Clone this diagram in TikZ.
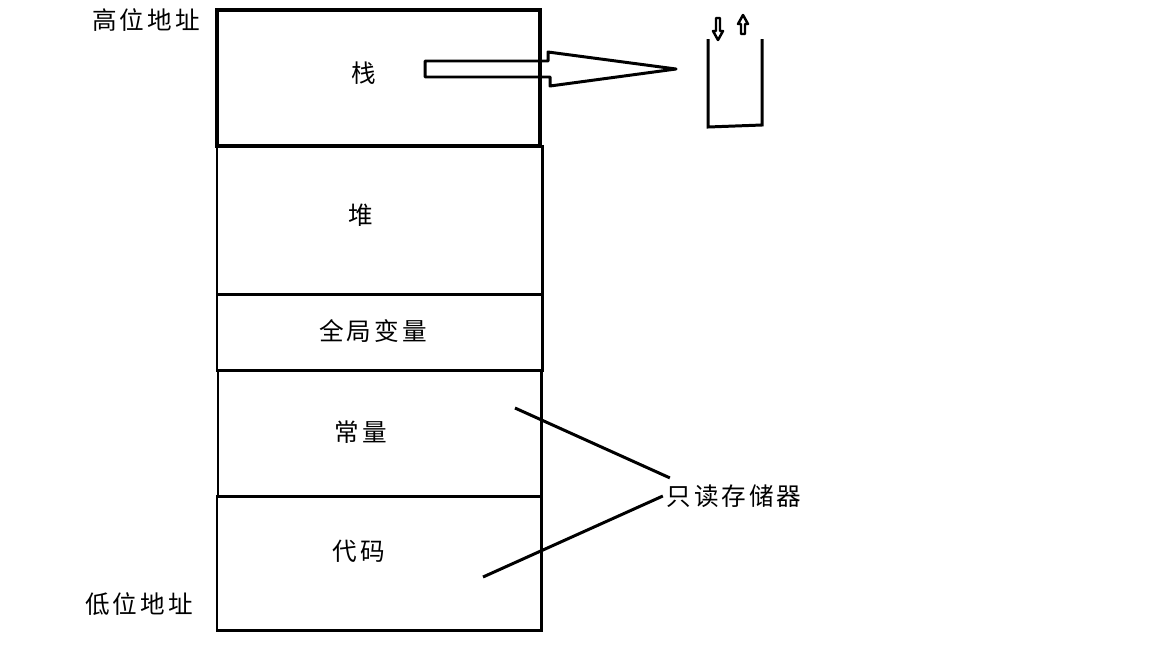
\documentclass[tikz,border=0pt]{standalone}
\usepackage{fontspec}
\usepackage{tikz}
\newfontfamily\cjk[LetterSpace=12]{Noto Sans CJK SC}
\definecolor{inkblack}{HTML}{000000}
\tikzset{every node/.append style={font=\cjk\fontsize{7}{8}\selectfont,inner sep=0pt},
  segline/.style={line width=0.85pt},
  stackline/.style={line width=1.2pt},
  thinline/.style={line width=0.7pt,line join=round}}

\begin{document}
\begin{tikzpicture}[x=0.01cm,y=-0.01cm,inkblack]
  \fill[white] (0,0) rectangle (1152,648);
  \useasboundingbox (0,0) rectangle (1152,648);
  \draw[segline] (217,146) rectangle (542,294);
  \draw[segline] (217,294) rectangle (542,370);
  \draw[segline] (218,370) rectangle (541,496);
  \draw[segline] (217,496) rectangle (541,630);
  \draw[stackline] (217,10) rectangle (540,146);
  \node (high) at (146,20) {高位地址};
  \node (low) at (139,604) {低位地址};
  \node (stack) at (364,73) {栈};
  \node (heap) at (361,215) {堆};
  \node (global) at (373,331) {全局变量};
  \node (const) at (361,432) {常量};
  \node (code) at (359,551) {代码};
  \node (rom) at (734,496) {只读存储器};
  \draw[segline,line join=round] (425,61) -- (548,61) -- (548,52) -- (676,69)
    -- (550,86) -- (550,77) -- (425,77) -- cycle;
  \draw[segline] (708,39) -- (708,127) -- (762,125) -- (762,39);
  \draw[thinline] (716,18) -- (720,18) -- (720,31) -- (723,31) -- (718,40)
    -- (713,31) -- (716,31) -- cycle;
  \draw[thinline] (741,34) -- (745,34) -- (745,24) -- (748,24) -- (743,15)
    -- (738,24) -- (741,24) -- cycle;
  \coordinate (constPt) at (515,408);
  \coordinate (codePt) at (483,577);
  \draw[segline] (constPt) -- ([shift={(4,-6)}]rom.north west);
  \draw[segline] (codePt) -- ([shift={(-3,0)}]rom.west);
\end{tikzpicture}
\end{document}
